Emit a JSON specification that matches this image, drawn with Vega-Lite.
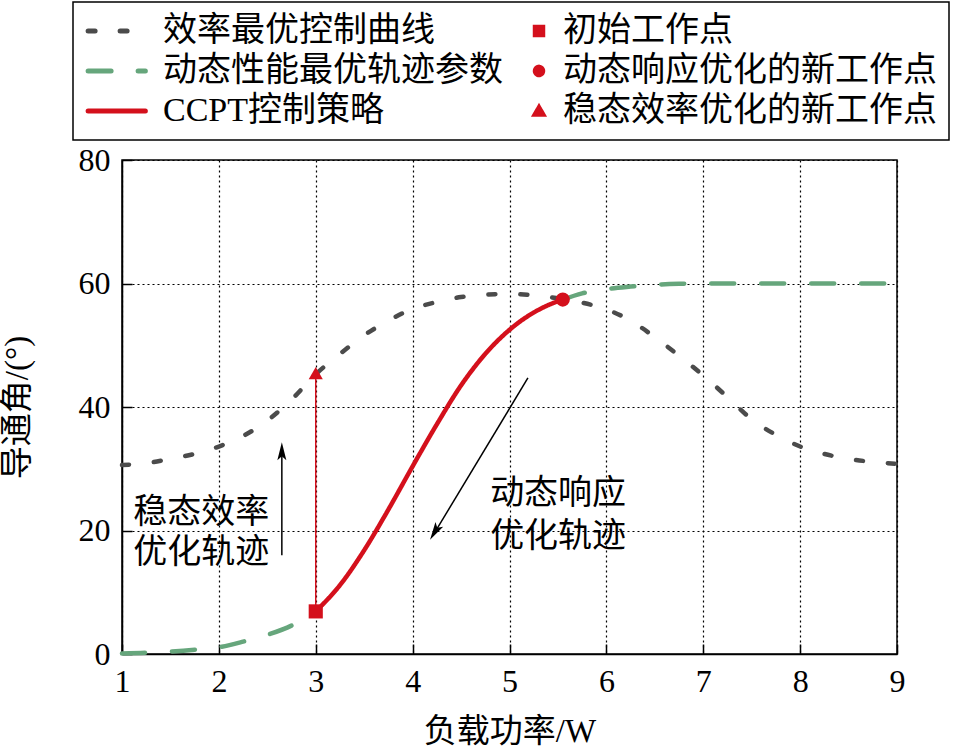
{
  "$schema": "https://vega.github.io/schema/vega-lite/v6.json",
  "width": 775,
  "height": 494,
  "autosize": {"type": "none"},
  "padding": {"left": 122, "top": 160, "right": 56, "bottom": 95},
  "background": "white",
  "config": {
    "view": {"stroke": "black", "strokeWidth": 1.5},
    "font": "Liberation Serif, Noto Sans CJK SC",
    "axis": {
      "domainColor": "black",
      "domainWidth": 1.5,
      "tickColor": "black",
      "tickWidth": 1.5,
      "tickSize": -10,
      "labelFont": "Liberation Serif, Noto Sans CJK SC",
      "labelFontSize": 32,
      "labelColor": "black",
      "labelPadding": 22,
      "labelFlush": false,
      "titleFont": "Liberation Serif, Noto Sans CJK SC",
      "titleFontSize": 33,
      "titleFontWeight": "normal",
      "titleColor": "black",
      "gridColor": "black",
      "gridDash": [2, 3],
      "gridWidth": 1.2,
      "gridOpacity": 1
    }
  },
  "datasets": {
    "curves": [
      {"s": "效率最优控制曲线", "g": "a", "x": 1.0, "y": 30.6},
      {"s": "效率最优控制曲线", "g": "a", "x": 1.25, "y": 30.9},
      {"s": "效率最优控制曲线", "g": "a", "x": 1.5, "y": 31.6},
      {"s": "效率最优控制曲线", "g": "a", "x": 1.75, "y": 32.4},
      {"s": "效率最优控制曲线", "g": "a", "x": 2.0, "y": 33.6},
      {"s": "效率最优控制曲线", "g": "a", "x": 2.25, "y": 35.3},
      {"s": "效率最优控制曲线", "g": "a", "x": 2.5, "y": 37.8},
      {"s": "效率最优控制曲线", "g": "a", "x": 2.75, "y": 41.2},
      {"s": "效率最优控制曲线", "g": "a", "x": 3.0, "y": 45.3},
      {"s": "效率最优控制曲线", "g": "a", "x": 3.25, "y": 48.6},
      {"s": "效率最优控制曲线", "g": "a", "x": 3.5, "y": 51.6},
      {"s": "效率最优控制曲线", "g": "a", "x": 3.75, "y": 54.0},
      {"s": "效率最优控制曲线", "g": "a", "x": 4.0, "y": 55.9},
      {"s": "效率最优控制曲线", "g": "a", "x": 4.25, "y": 57.0},
      {"s": "效率最优控制曲线", "g": "a", "x": 4.5, "y": 57.8},
      {"s": "效率最优控制曲线", "g": "a", "x": 4.75, "y": 58.2},
      {"s": "效率最优控制曲线", "g": "a", "x": 5.0, "y": 58.3},
      {"s": "效率最优控制曲线", "g": "a", "x": 5.25, "y": 58.1},
      {"s": "效率最优控制曲线", "g": "a", "x": 5.5, "y": 57.6},
      {"s": "效率最优控制曲线", "g": "a", "x": 5.75, "y": 56.9},
      {"s": "效率最优控制曲线", "g": "a", "x": 6.0, "y": 55.8},
      {"s": "效率最优控制曲线", "g": "a", "x": 6.25, "y": 54.0},
      {"s": "效率最优控制曲线", "g": "a", "x": 6.5, "y": 51.3},
      {"s": "效率最优控制曲线", "g": "a", "x": 6.75, "y": 48.3},
      {"s": "效率最优控制曲线", "g": "a", "x": 7.0, "y": 45.1},
      {"s": "效率最优控制曲线", "g": "a", "x": 7.25, "y": 41.6},
      {"s": "效率最优控制曲线", "g": "a", "x": 7.5, "y": 38.0},
      {"s": "效率最优控制曲线", "g": "a", "x": 7.75, "y": 35.5},
      {"s": "效率最优控制曲线", "g": "a", "x": 8.0, "y": 33.6},
      {"s": "效率最优控制曲线", "g": "a", "x": 8.25, "y": 32.4},
      {"s": "效率最优控制曲线", "g": "a", "x": 8.5, "y": 31.6},
      {"s": "效率最优控制曲线", "g": "a", "x": 8.75, "y": 31.1},
      {"s": "效率最优控制曲线", "g": "a", "x": 9.0, "y": 30.8},
      {"s": "动态性能最优轨迹参数", "g": "b1", "x": 1.0, "y": 0.1},
      {"s": "动态性能最优轨迹参数", "g": "b1", "x": 1.25, "y": 0.2},
      {"s": "动态性能最优轨迹参数", "g": "b1", "x": 1.5, "y": 0.4},
      {"s": "动态性能最优轨迹参数", "g": "b1", "x": 1.75, "y": 0.7},
      {"s": "动态性能最优轨迹参数", "g": "b1", "x": 2.0, "y": 1.1},
      {"s": "动态性能最优轨迹参数", "g": "b1", "x": 2.25, "y": 2.0},
      {"s": "动态性能最优轨迹参数", "g": "b1", "x": 2.5, "y": 3.1},
      {"s": "动态性能最优轨迹参数", "g": "b1", "x": 2.75, "y": 4.6},
      {"s": "动态性能最优轨迹参数", "g": "b1", "x": 3.0, "y": 6.9},
      {"s": "动态性能最优轨迹参数", "g": "b2", "x": 5.55, "y": 57.4},
      {"s": "动态性能最优轨迹参数", "g": "b2", "x": 5.75, "y": 58.4},
      {"s": "动态性能最优轨迹参数", "g": "b2", "x": 6.0, "y": 59.1},
      {"s": "动态性能最优轨迹参数", "g": "b2", "x": 6.25, "y": 59.5},
      {"s": "动态性能最优轨迹参数", "g": "b2", "x": 6.5, "y": 59.8},
      {"s": "动态性能最优轨迹参数", "g": "b2", "x": 6.75, "y": 59.95},
      {"s": "动态性能最优轨迹参数", "g": "b2", "x": 7.0, "y": 60},
      {"s": "动态性能最优轨迹参数", "g": "b2", "x": 7.5, "y": 60},
      {"s": "动态性能最优轨迹参数", "g": "b2", "x": 8.0, "y": 60},
      {"s": "动态性能最优轨迹参数", "g": "b2", "x": 8.5, "y": 60},
      {"s": "动态性能最优轨迹参数", "g": "b2", "x": 9.0, "y": 60},
      {"s": "CCPT控制策略", "g": "c", "x": 3.0, "y": 6.9},
      {"s": "CCPT控制策略", "g": "c", "x": 3.25, "y": 11.15},
      {"s": "CCPT控制策略", "g": "c", "x": 3.5, "y": 16.8},
      {"s": "CCPT控制策略", "g": "c", "x": 3.75, "y": 23.4},
      {"s": "CCPT控制策略", "g": "c", "x": 4.0, "y": 30.4},
      {"s": "CCPT控制策略", "g": "c", "x": 4.25, "y": 37.2},
      {"s": "CCPT控制策略", "g": "c", "x": 4.5, "y": 43.5},
      {"s": "CCPT控制策略", "g": "c", "x": 4.75, "y": 48.6},
      {"s": "CCPT控制策略", "g": "c", "x": 5.0, "y": 52.5},
      {"s": "CCPT控制策略", "g": "c", "x": 5.25, "y": 55.3},
      {"s": "CCPT控制策略", "g": "c", "x": 5.4, "y": 56.5},
      {"s": "CCPT控制策略", "g": "c", "x": 5.55, "y": 57.4}
    ],
    "markers": [
      {"s": "初始工作点", "x": 3.0, "y": 6.9},
      {"s": "动态响应优化的新工作点", "x": 5.55, "y": 57.4},
      {"s": "稳态效率优化的新工作点", "x": 3.0, "y": 45.5}
    ],
    "jump": [
      {"x": 3.0, "y": 6.9, "y2": 45.0}
    ],
    "arrows": [
      {"x": 2.65, "y": 16.0, "x2": 2.65, "y2": 33.0},
      {"x": 5.19, "y": 44.7, "x2": 4.21, "y2": 19.2}
    ],
    "labels": [
      {"x": 1.115, "y": 22.8, "t": "稳态效率"},
      {"x": 1.115, "y": 16.4, "t": "优化轨迹"},
      {"x": 4.8, "y": 25.9, "t": "动态响应"},
      {"x": 4.8, "y": 19.0, "t": "优化轨迹"}
    ]
  },
  "layer": [
    {
      "data": {"name": "curves"},
      "mark": {"type": "line", "strokeWidth": 4.5, "strokeCap": "round", "interpolate": "monotone"},
      "encoding": {
        "x": {
          "field": "x",
          "type": "quantitative",
          "scale": {"domain": [1, 9], "nice": false},
          "axis": {"values": [1, 2, 3, 4, 5, 6, 7, 8, 9], "format": "d", "title": "负载功率/W", "titlePadding": 18}
        },
        "y": {
          "field": "y",
          "type": "quantitative",
          "scale": {"domain": [0, 80], "nice": false},
          "axis": {"values": [0, 20, 40, 60, 80], "format": "d", "title": "导通角/(°)", "titlePadding": 44}
        },
        "detail": {"field": "g"},
        "color": {
          "field": "s",
          "type": "nominal",
          "scale": {
            "domain": ["效率最优控制曲线", "动态性能最优轨迹参数", "CCPT控制策略", "初始工作点", "动态响应优化的新工作点", "稳态效率优化的新工作点"],
            "range": ["#4b4b4b", "#66a67c", "#d4101c", "#d4101c", "#d4101c", "#d4101c"]
          },
          "legend": {
            "title": " ",
            "titleOrient": "left",
            "titleFontSize": 1,
            "titlePadding": 27,
            "orient": "none",
            "legendX": -49,
            "legendY": -158,
            "columns": 2,
            "padding": 12,
            "rowPadding": 6,
            "columnPadding": 9,
            "strokeColor": "black",
            "fillColor": "white",
            "labelFont": "Liberation Serif, Noto Sans CJK SC",
            "labelFontSize": 34,
            "labelColor": "black",
            "labelLimit": 600,
            "symbolSize": 56,
            "symbolStrokeWidth": 5,
            "symbolOffset": 10,
            "labelOffset": 7,
            "encode": {
              "legend": {"update": {"strokeWidth": {"value": 1.5}}},
              "symbols": {
                "update": {
                  "shape": {"value": {"expr": "scale('shape', datum.value)"}},
                  "strokeDash": {"value": {"expr": "scale('strokeDash', datum.value)"}},
                  "stroke": {"value": {"expr": "scale('color', datum.value)"}},
                  "fill": {"value": {"expr": "scale('color', datum.value)"}},
                  "strokeCap": {"value": "round"},
                  "opacity": {"value": 1},
                  "fillOpacity": {"value": 1},
                  "strokeOpacity": {"value": 1}
                }
              }
            }
          }
        },
        "strokeDash": {
          "field": "s",
          "type": "nominal",
          "scale": {
            "domain": ["效率最优控制曲线", "动态性能最优轨迹参数", "CCPT控制策略", "初始工作点", "动态响应优化的新工作点", "稳态效率优化的新工作点"],
            "range": [[7, 25], [23, 27], [1, 0], [1, 0], [1, 0], [1, 0]]
          },
          "legend": null
        }
      }
    },
    {
      "data": {"name": "jump"},
      "mark": {"type": "rule", "color": "#d4101c", "strokeWidth": 1.5},
      "encoding": {
        "x": {"field": "x", "type": "quantitative"},
        "y": {"field": "y", "type": "quantitative"},
        "y2": {"field": "y2"}
      }
    },
    {
      "data": {"name": "markers"},
      "mark": {"type": "point", "filled": true, "opacity": 1, "size": 200},
      "encoding": {
        "x": {"field": "x", "type": "quantitative"},
        "y": {"field": "y", "type": "quantitative"},
        "color": {"field": "s", "type": "nominal"},
        "shape": {
          "field": "s",
          "type": "nominal",
          "scale": {
            "domain": ["效率最优控制曲线", "动态性能最优轨迹参数", "CCPT控制策略", "初始工作点", "动态响应优化的新工作点", "稳态效率优化的新工作点"],
            "range": ["M-13.6,0H1.7", "M-13.6,0H1.7", "M-13.6,0H1.7", "square", "circle", "triangle-up"]
          },
          "legend": null
        }
      }
    },
    {
      "data": {"name": "arrows"},
      "mark": {"type": "rule", "color": "black", "strokeWidth": 1.5},
      "encoding": {
        "x": {"field": "x", "type": "quantitative"},
        "y": {"field": "y", "type": "quantitative"},
        "x2": {"field": "x2"},
        "y2": {"field": "y2"}
      }
    },
    {
      "data": {"values": [{"x": 2.65, "y": 34.3}]},
      "mark": {"type": "point", "filled": true, "opacity": 1, "color": "black", "size": 100, "shape": "M0,0L0.9,3.6L0,2.8L-0.9,3.6Z", "angle": 0},
      "encoding": {
        "x": {"field": "x", "type": "quantitative"},
        "y": {"field": "y", "type": "quantitative"}
      }
    },
    {
      "data": {"values": [{"x": 4.18, "y": 18.5}]},
      "mark": {"type": "point", "filled": true, "opacity": 1, "color": "black", "size": 100, "shape": "M0,0L0.9,3.6L0,2.8L-0.9,3.6Z", "angle": 211},
      "encoding": {
        "x": {"field": "x", "type": "quantitative"},
        "y": {"field": "y", "type": "quantitative"}
      }
    },
    {
      "data": {"name": "labels"},
      "mark": {"type": "text", "align": "left", "baseline": "middle", "fontSize": 34, "color": "black", "font": "Liberation Serif, Noto Sans CJK SC"},
      "encoding": {
        "x": {"field": "x", "type": "quantitative"},
        "y": {"field": "y", "type": "quantitative"},
        "text": {"field": "t"}
      }
    }
  ]
}
